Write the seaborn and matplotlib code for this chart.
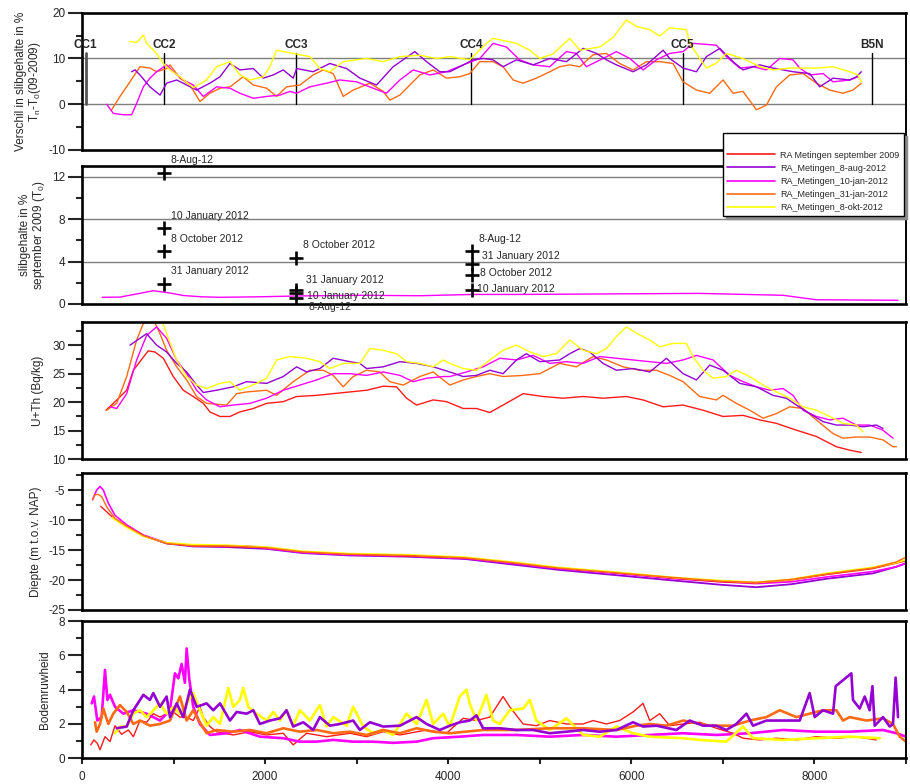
import matplotlib
matplotlib.use("Agg")
import matplotlib.pyplot as plt
from matplotlib.lines import Line2D
from matplotlib.ticker import MultipleLocator
import seaborn as sns
import pandas as pd

# ---------------------------------------------------------------- series names / colours
names = ["RA Metingen september 2009", "RA_Metingen_8-aug-2012", "RA_Metingen_10-jan-2012",
         "RA_Metingen_31-jan-2012", "RA_Metingen_8-okt-2012"]
colors = ["#ff1a1a", "#9400d3", "#ff00ff", "#ff6a13", "#ffff00"]

# ---------------------------------------------------------------- stations
stations = ["CC1", "CC2", "CC3", "CC4", "CC5", "B5N"]
station_x = [40, 895, 2336, 4254, 6561, 8632]

# ---------------------------------------------------------------- panel 1: difference in silt content (%)
dv_aug_x = [542, 579, 633, 742, 852, 924, 1034, 1143, 1252, 1397, 1507, 1616, 1725, 1871, 1980, 2089, 2198, 2307,
            2344, 2525, 2707, 2890, 3035, 3217, 3399, 3635, 3763, 3908, 4017, 4126, 4272, 4381, 4490, 4599, 4745,
            4927, 5109, 5291, 5473, 5619, 5728, 5837, 6019, 6165, 6347, 6419, 6565, 6711, 6820, 6966, 7111, 7220,
            7402, 7548, 7766, 7948, 8057, 8203, 8385, 8458, 8512]
dv_aug_y = [7.1, 7.5, 6.4, 3.8, 2.0, 4.6, 5.3, 4.2, 3.1, 4.6, 6.0, 8.9, 7.5, 7.8, 5.7, 6.4, 7.5, 5.7, 7.8, 7.1,
            8.9, 7.8, 5.7, 4.2, 8.2, 11.5, 9.3, 7.1, 7.1, 8.2, 9.7, 10.0, 9.7, 8.2, 9.7, 8.6, 10.0, 9.3, 12.2, 11.1,
            9.7, 8.6, 7.1, 8.6, 11.8, 10.0, 7.9, 7.1, 10.4, 12.2, 9.3, 7.5, 8.6, 7.9, 7.1, 6.7, 3.8, 5.7, 5.3, 6.0,
            7.1]
dv_j10_x = [269, 342, 451, 542, 597, 670, 742, 815, 924, 997, 1106, 1215, 1325, 1470, 1616, 1725, 1871, 2016, 2162,
            2271, 2344, 2489, 2671, 2817, 2999, 3180, 3326, 3472, 3617, 3799, 3981, 4163, 4345, 4490, 4636, 4781,
            4927, 5109, 5291, 5400, 5509, 5691, 5837, 5983, 6128, 6274, 6419, 6565, 6674, 6929, 7038, 7184, 7329,
            7475, 7621, 7766, 7839, 7948, 8094, 8203, 8385, 8476]
dv_j10_y = [0.0, -2.0, -2.3, -2.3, 0.2, 3.8, 5.7, 7.1, 8.6, 7.1, 5.3, 4.2, 1.7, 3.8, 3.5, 2.4, 1.3, 1.7, 2.0, 2.8,
            2.4, 3.8, 4.6, 5.3, 4.9, 3.5, 2.4, 5.3, 7.5, 6.4, 7.1, 8.6, 10.0, 13.3, 12.5, 9.7, 8.6, 8.2, 11.5, 11.1,
            8.2, 10.0, 11.5, 10.0, 7.5, 9.7, 11.1, 11.5, 13.3, 12.9, 10.4, 7.9, 8.2, 7.5, 10.0, 9.7, 7.9, 6.4, 6.7,
            4.9, 5.3, 6.0]
dv_j31_x = [324, 415, 524, 633, 742, 815, 924, 961, 1070, 1179, 1288, 1397, 1507, 1616, 1761, 1871, 2016, 2125, 2234,
            2380, 2525, 2635, 2744, 2853, 2962, 3144, 3290, 3362, 3472, 3581, 3690, 3836, 3981, 4126, 4235, 4345,
            4490, 4599, 4709, 4818, 4963, 5109, 5218, 5327, 5437, 5582, 5728, 5873, 6019, 6165, 6310, 6456, 6565,
            6711, 6856, 7002, 7111, 7220, 7366, 7475, 7584, 7730, 7875, 8021, 8167, 8312, 8421, 8512]
dv_j31_y = [-1.2, 1.7, 4.9, 8.2, 7.9, 7.1, 7.8, 8.6, 5.7, 4.2, 0.6, 2.4, 3.5, 3.8, 6.0, 4.2, 3.5, 1.7, 3.8, 4.2,
            6.4, 7.5, 6.7, 1.7, 3.1, 4.6, 2.8, 0.9, 2.0, 4.2, 6.4, 7.5, 5.7, 6.0, 6.7, 9.3, 9.3, 8.2, 5.3, 4.6,
            5.7, 7.1, 8.2, 8.6, 8.2, 10.8, 11.1, 8.9, 7.5, 9.3, 9.3, 8.9, 4.9, 3.1, 2.4, 5.3, 2.4, 2.8, -1.2, -0.2,
            3.8, 6.4, 6.7, 4.6, 3.1, 2.4, 3.1, 4.6]
dv_okt_x = [517, 597, 670, 706, 815, 888, 961, 1070, 1215, 1361, 1470, 1616, 1725, 1834, 1980, 2052, 2125, 2307,
            2489, 2598, 2707, 2853, 3108, 3290, 3472, 3690, 3872, 4017, 4235, 4417, 4490, 4745, 4891, 5000, 5145,
            5327, 5437, 5655, 5801, 5946, 6055, 6201, 6310, 6419, 6601, 6638, 6747, 6820, 6929, 7038, 7220, 7402,
            7548, 7730, 8021, 8203, 8385, 8476, 8512]
dv_okt_y = [13.7, 13.5, 15.1, 13.3, 11.1, 8.9, 7.5, 6.0, 3.6, 5.3, 8.2, 9.3, 6.4, 5.3, 6.0, 8.2, 11.8, 11.1, 10.4,
            7.8, 7.1, 9.3, 10.0, 9.3, 10.4, 10.7, 10.0, 10.4, 9.7, 13.3, 14.4, 13.3, 11.8, 10.0, 11.0, 14.4, 11.8,
            12.5, 14.6, 18.4, 17.0, 16.3, 14.9, 16.7, 16.3, 13.3, 10.0, 7.9, 9.0, 11.1, 10.0, 8.2, 7.5, 7.9, 7.9,
            8.2, 7.1, 6.4, 4.9]

# ---------------------------------------------------------------- panel 2: silt content september 2009 (T0)
sg_x = [220, 415, 600, 779, 950, 1106, 1300, 1507, 1943, 2380, 3035, 3690, 4272, 4782, 5764, 6747, 7657, 8020,
        8384, 8912]
sg_y = [0.63, 0.65, 0.95, 1.25, 1.05, 0.8, 0.68, 0.63, 0.68, 0.76, 0.82, 0.78, 0.9, 0.9, 0.95, 1.0, 0.82, 0.4,
        0.38, 0.35]
sample_x = [895, 895, 895, 895, 2336, 2336, 2336, 2336, 4258, 4258, 4258, 4258]
sample_y = [12.35, 7.15, 5.0, 1.9, 4.3, 1.35, 1.05, 0.6, 4.95, 3.8, 2.75, 1.3]
sample_lbl = ["8-Aug-12", "10 January 2012", "8 October 2012", "31 January 2012",
              "8 October 2012", "31 January 2012", "10 January 2012", "8-Aug-12",
              "8-Aug-12", "31 January 2012", "8 October 2012", "10 January 2012"]
# where each sample's caption sits
lbl_x = [972, 972, 972, 972, 2413, 2445, 2456, 2478, 4334, 4364, 4345, 4312]
lbl_y = [13.6, 8.25, 6.15, 3.1, 5.6, 2.3, 0.8, -0.25, 6.1, 4.5, 2.95, 1.4]

# ---------------------------------------------------------------- panel 3: U+Th (Bq/kg)
ut_sep_x = [262, 342, 488, 561, 670, 724, 797, 888, 997, 1106, 1215, 1325, 1397, 1507, 1616, 1725, 1871, 2016, 2198,
            2344, 2562, 2744, 2926, 3108, 3290, 3435, 3545, 3654, 3836, 3981, 4163, 4308, 4454, 4599, 4818, 5036,
            5255, 5473, 5691, 5946, 6128, 6347, 6565, 6783, 7002, 7220, 7402, 7584, 7803, 8021, 8239, 8385, 8512]
ut_sep_y = [18.6, 19.8, 22.1, 25.6, 27.9, 29.0, 28.8, 27.7, 24.5, 22.1, 21.0, 19.8, 18.3, 17.5, 17.5, 18.3, 18.9,
            19.8, 20.1, 21.0, 21.2, 21.5, 21.8, 22.1, 22.8, 22.7, 20.7, 19.5, 20.4, 20.1, 18.9, 18.9, 18.2, 19.5,
            21.5, 21.0, 20.7, 21.0, 20.7, 21.0, 20.4, 19.2, 19.5, 18.6, 17.5, 17.7, 16.9, 16.3, 15.1, 14.0, 12.2,
            11.6, 11.2]
ut_aug_x = [524, 633, 706, 815, 924, 1034, 1143, 1252, 1325, 1470, 1652, 1798, 2016, 2198, 2344, 2453, 2598, 2744,
            2926, 3035, 3108, 3290, 3472, 3654, 3836, 4017, 4163, 4308, 4454, 4599, 4745, 4854, 5000, 5218, 5327,
            5437, 5546, 5691, 5837, 6019, 6201, 6383, 6565, 6711, 6856, 7002, 7184, 7366, 7548, 7693, 7803, 7948,
            8094, 8239, 8385, 8531, 8676, 8749]
ut_aug_y = [30.0, 31.2, 32.0, 30.0, 28.8, 26.8, 25.3, 23.0, 21.7, 22.1, 22.7, 23.6, 23.3, 24.5, 26.2, 25.3, 25.9,
            27.7, 27.1, 26.8, 25.9, 26.2, 27.1, 26.8, 26.2, 25.3, 24.5, 24.7, 25.6, 25.0, 27.4, 28.5, 27.1, 27.4,
            28.5, 29.4, 28.8, 26.8, 25.6, 25.9, 25.3, 27.7, 25.0, 23.9, 26.5, 25.6, 23.3, 22.7, 21.2, 20.7, 19.5,
            18.0, 16.6, 16.0, 16.0, 15.7, 16.0, 15.4]
ut_j10_x = [306, 379, 488, 597, 706, 815, 924, 1034, 1143, 1252, 1361, 1507, 1652, 1834, 2016, 2198, 2380, 2562,
            2744, 2926, 3108, 3290, 3472, 3617, 3763, 3945, 4017, 4199, 4381, 4563, 4745, 4927, 5109, 5291, 5473,
            5655, 5837, 6019, 6201, 6383, 6565, 6711, 6893, 7075, 7220, 7366, 7511, 7657, 7766, 7875, 8021, 8167,
            8312, 8458, 8603, 8749, 8858]
ut_j10_y = [19.2, 18.9, 21.5, 27.4, 31.7, 33.2, 31.2, 27.4, 25.0, 22.1, 20.4, 19.2, 19.5, 19.8, 20.7, 22.1, 23.0,
            23.9, 25.0, 25.0, 24.7, 25.3, 24.7, 23.6, 24.2, 24.5, 24.5, 25.3, 26.2, 27.7, 27.4, 28.2, 26.8, 27.1,
            26.8, 28.0, 27.7, 27.4, 27.1, 26.8, 27.4, 28.2, 27.4, 24.7, 23.6, 22.7, 22.1, 22.4, 21.2, 18.6, 17.5,
            16.9, 17.2, 16.0, 16.0, 15.1, 13.7]
ut_j31_x = [269, 379, 488, 597, 670, 779, 852, 924, 1034, 1143, 1252, 1361, 1580, 1689, 1798, 2016, 2125, 2307,
            2489, 2635, 2744, 2853, 2962, 3108, 3253, 3362, 3508, 3690, 3836, 4017, 4163, 4308, 4454, 4599, 4818,
            5000, 5218, 5400, 5582, 5728, 5910, 6092, 6274, 6419, 6565, 6747, 6929, 7002, 7147, 7293, 7439, 7584,
            7730, 7875, 8021, 8203, 8312, 8458, 8603, 8749, 8858, 8895]
ut_j31_y = [18.6, 19.8, 24.5, 30.9, 33.8, 34.5, 32.0, 29.1, 26.2, 23.9, 21.0, 19.8, 19.5, 21.5, 21.8, 22.1, 21.2,
            23.6, 25.6, 25.6, 24.7, 22.7, 24.5, 25.6, 25.3, 23.6, 23.0, 24.5, 25.3, 23.0, 23.9, 24.5, 25.0, 24.5,
            24.7, 25.0, 26.8, 26.2, 28.0, 27.4, 26.2, 25.6, 25.6, 24.7, 23.6, 21.0, 20.4, 21.2, 19.8, 18.6, 17.2,
            18.0, 19.2, 18.9, 16.9, 14.5, 13.7, 13.9, 13.9, 13.4, 12.2, 12.2]
ut_okt_x = [870, 924, 1034, 1143, 1252, 1361, 1507, 1616, 1725, 1907, 2016, 2125, 2271, 2453, 2598, 2707, 2853, 3035,
            3144, 3290, 3435, 3545, 3690, 3836, 3945, 4017, 4163, 4308, 4454, 4599, 4745, 4891, 5036, 5182, 5327,
            5473, 5619, 5728, 5837, 5946, 6055, 6201, 6310, 6456, 6601, 6674, 6783, 6893, 7038, 7147, 7293, 7439,
            7584, 7730, 7875, 8021, 8167, 8312, 8458, 8531]
ut_okt_y = [34.5, 32.0, 27.4, 24.5, 23.0, 22.4, 23.3, 23.6, 22.1, 23.3, 24.2, 27.4, 28.0, 27.7, 27.1, 25.9, 26.8,
            26.8, 29.4, 29.1, 28.5, 27.1, 26.8, 26.2, 27.4, 26.8, 25.9, 25.6, 27.4, 29.1, 30.0, 28.8, 28.0, 28.5,
            30.9, 29.1, 28.5, 29.4, 31.5, 33.2, 32.1, 30.9, 29.7, 30.3, 30.3, 28.0, 25.6, 24.2, 24.5, 25.6, 24.5,
            23.0, 21.8, 20.7, 19.2, 18.6, 17.5, 16.3, 16.0, 14.8]

# ---------------------------------------------------------------- panel 4: depth (m t.o.v. NAP)
dp_sep_x = [204, 360, 488, 670, 924, 1215, 1579, 2016, 2409, 2917, 3553, 4188, 4697, 5205, 5841, 6476, 6984, 7365,
            7746, 8128, 8636, 8891, 9000]
dp_sep_y = [-7.7, -9.9, -11.1, -12.6, -13.9, -14.3, -14.4, -14.6, -15.3, -15.7, -16.0, -16.3, -17.1, -18.0, -18.8,
            -19.7, -20.3, -20.5, -20.0, -19.1, -18.1, -17.2, -16.8]
dp_aug_x = [488, 670, 924, 1215, 1579, 2016, 2409, 2917, 3553, 4188, 4697, 5205, 5841, 6476, 6984, 7365, 7746, 8128,
            8636, 8891, 9000]
dp_aug_y = [-10.9, -12.6, -13.9, -14.4, -14.5, -14.8, -15.5, -15.9, -16.1, -16.5, -17.4, -18.3, -19.2, -20.1, -20.8,
            -21.2, -20.7, -19.8, -18.9, -17.8, -17.2]
dp_j10_x = [116, 160, 197, 233, 288, 360, 488, 670, 924, 1215, 1579, 1798, 2016, 2409, 2917, 3553, 4188, 4697, 5205,
            5841, 6476, 6984, 7365, 7746, 8128, 8636, 8891, 9000]
dp_j10_y = [-6.6, -5.0, -4.4, -5.0, -7.2, -9.2, -10.8, -12.5, -13.8, -14.3, -14.4, -14.3, -14.7, -15.4, -15.8, -16.0,
            -16.4, -17.2, -18.1, -18.9, -19.8, -20.3, -20.6, -20.3, -19.5, -18.6, -17.8, -17.2]
dp_j31_x = [116, 140, 175, 215, 270, 360, 488, 670, 924, 1215, 1579, 2016, 2409, 2917, 3553, 4188, 4697, 5205, 5841,
            6476, 6984, 7365, 7746, 8128, 8636, 8891, 9000]
dp_j31_y = [-6.6, -5.8, -5.7, -6.1, -7.8, -9.7, -11.0, -12.6, -13.9, -14.3, -14.3, -14.6, -15.3, -15.7, -15.9, -16.3,
            -17.1, -18.0, -18.8, -19.6, -20.2, -20.4, -19.9, -19.0, -18.0, -17.0, -16.2]
dp_okt_x = [330, 488, 670, 924, 1215, 1579, 2016, 2409, 2917, 3553, 4188, 4697, 5205, 5841, 6476, 6984, 7365, 7746,
            8128, 8636, 8891, 9000]
dp_okt_y = [-9.6, -11.2, -12.7, -13.8, -14.1, -14.2, -14.5, -15.2, -15.6, -15.8, -16.2, -17.0, -17.9, -18.7, -19.6,
            -20.1, -20.4, -19.9, -18.9, -17.9, -17.1, -16.6]

# ---------------------------------------------------------------- panel 5: bed roughness
rw_sep_x = [95, 131, 167, 197, 251, 306, 360, 433, 506, 561, 633, 706, 779, 852, 924, 997, 1070, 1143, 1215, 1288,
            1325, 1397, 1470, 1652, 1834, 2016, 2198, 2307, 2453, 2671, 2926, 3108, 3290, 3472, 3763, 3981, 4163,
            4308, 4454, 4599, 4672, 4818, 4963, 5109, 5291, 5473, 5582, 5728, 5873, 6019, 6128, 6201, 6310, 6419,
            6565, 6747, 6929, 7111, 7220, 7402, 7584, 7803, 8021, 8239, 8458, 8676]
rw_sep_y = [0.78, 1.07, 0.87, 0.5, 1.26, 0.97, 1.9, 1.4, 1.65, 1.26, 2.2, 2.1, 2.6, 2.4, 2.6, 2.7, 2.4, 2.4, 2.2,
            3.0, 2.4, 1.85, 1.55, 1.36, 1.55, 1.36, 1.46, 0.78, 1.46, 1.26, 1.46, 1.26, 1.55, 1.36, 1.65, 1.46,
            2.33, 2.2, 2.4, 3.6, 3.0, 2.0, 1.9, 2.2, 2.0, 2.0, 2.2, 2.0, 2.2, 2.7, 3.2, 2.2, 2.6, 1.9, 2.0, 2.1,
            1.75, 1.46, 1.17, 1.07, 1.17, 1.07, 1.26, 1.17, 1.26, 1.07]
rw_aug_x = [379, 488, 561, 670, 742, 779, 852, 924, 961, 1034, 1106, 1179, 1252, 1361, 1434, 1507, 1616, 1689, 1798,
            1871, 1943, 2052, 2162, 2234, 2307, 2416, 2525, 2598, 2707, 2817, 2962, 3035, 3144, 3290, 3472, 3654,
            3763, 3908, 4017, 4126, 4235, 4308, 4381, 4563, 4745, 4927, 5109, 5291, 5473, 5655, 5837, 6019, 6128,
            6274, 6492, 6638, 6783, 6929, 7038, 7147, 7257, 7329, 7475, 7657, 7839, 7948, 8003, 8094, 8203, 8232,
            8403, 8421, 8494, 8549, 8603, 8633, 8658, 8749, 8822, 8858, 8887, 8913]
rw_aug_y = [1.75, 1.85, 2.8, 3.7, 3.4, 3.8, 3.0, 3.6, 2.4, 3.2, 2.4, 4.0, 3.0, 3.2, 2.8, 3.2, 2.2, 2.7, 2.6, 2.8,
            2.0, 2.2, 2.33, 2.8, 1.85, 2.1, 1.65, 2.4, 1.9, 2.0, 2.2, 1.65, 2.1, 1.85, 1.9, 2.4, 2.0, 1.65, 1.9,
            2.1, 2.2, 2.5, 1.75, 1.75, 1.65, 1.65, 1.46, 1.55, 1.65, 1.55, 1.65, 2.1, 1.85, 1.9, 1.65, 2.2, 1.9,
            1.9, 1.65, 2.0, 2.6, 1.9, 2.2, 2.2, 2.2, 3.8, 2.4, 2.8, 2.6, 4.2, 4.95, 3.4, 2.9, 3.6, 2.8, 4.2, 1.9,
            2.4, 1.85, 2.0, 4.7, 2.4]
rw_j10_x = [106, 131, 167, 215, 251, 277, 306, 360, 451, 561, 706, 852, 961, 1015, 1052, 1088, 1124, 1143, 1172,
            1215, 1288, 1397, 1580, 1725, 1943, 2198, 2380, 2562, 2744, 2962, 3180, 3399, 3654, 3836, 4127, 4381,
            4745, 5109, 5473, 5837, 6201, 6565, 6929, 7293, 7657, 8021, 8385, 8749, 8895, 9000]
rw_j10_y = [3.2, 3.6, 2.2, 2.4, 5.15, 3.4, 3.7, 3.0, 2.6, 2.8, 2.6, 2.2, 2.8, 4.95, 4.66, 5.5, 4.4, 6.4, 4.6, 3.0,
            2.0, 1.36, 1.46, 1.65, 1.26, 1.17, 0.97, 0.97, 1.07, 0.97, 0.97, 0.9, 0.97, 1.17, 1.26, 1.36, 1.36,
            1.26, 1.36, 1.26, 1.36, 1.46, 1.36, 1.46, 1.65, 1.55, 1.55, 1.65, 1.46, 1.26]
rw_j31_x = [142, 160, 197, 233, 287, 342, 415, 488, 561, 633, 742, 852, 961, 1070, 1143, 1215, 1288, 1361, 1470,
            1652, 1834, 2016, 2198, 2380, 2562, 2744, 2926, 3108, 3290, 3472, 3654, 3836, 4017, 4381, 4745, 5109,
            5473, 5837, 6055, 6201, 6383, 6565, 6856, 7111, 7293, 7475, 7621, 7803, 7948, 8094, 8239, 8312, 8385,
            8567, 8749, 8858, 8931, 9000]
rw_j31_y = [2.1, 1.55, 2.0, 2.9, 2.0, 2.6, 3.1, 2.7, 2.0, 2.2, 1.9, 2.0, 2.2, 3.6, 2.2, 2.8, 2.1, 1.46, 1.65, 1.55,
            1.65, 1.46, 1.75, 1.55, 1.65, 1.46, 1.55, 1.36, 1.65, 1.46, 1.75, 1.55, 1.46, 1.65, 1.65, 1.75, 1.75,
            1.65, 1.9, 2.0, 1.9, 2.2, 1.9, 1.9, 2.2, 2.4, 2.8, 2.4, 2.6, 2.8, 2.8, 2.2, 2.4, 2.2, 2.33, 2.0, 1.26,
            0.97]
rw_okt_x = [360, 415, 488, 561, 633, 706, 779, 852, 924, 997, 1070, 1143, 1215, 1288, 1361, 1434, 1507, 1598, 1652,
            1725, 1761, 1816, 1907, 2016, 2089, 2162, 2234, 2307, 2380, 2489, 2598, 2671, 2744, 2890, 2962, 3071,
            3180, 3290, 3399, 3545, 3654, 3763, 3836, 3945, 4017, 4126, 4199, 4235, 4308, 4381, 4417, 4490, 4563,
            4672, 4818, 4891, 4963, 5109, 5291, 5473, 5655, 5837, 6019, 6201, 6565, 6747, 7038, 7220, 7329, 7657,
            8021, 8385, 8713]
rw_okt_y = [1.46, 1.85, 1.85, 2.6, 2.8, 2.4, 2.8, 3.2, 2.6, 3.0, 2.6, 3.2, 3.8, 2.8, 1.9, 2.4, 2.0, 4.1, 3.0, 3.4,
            4.1, 3.0, 2.6, 2.2, 2.7, 2.2, 2.8, 1.9, 2.8, 2.2, 3.1, 1.85, 2.4, 1.9, 3.0, 1.85, 1.46, 1.65, 1.36, 2.6,
            2.0, 3.4, 2.0, 2.6, 1.85, 3.6, 4.0, 3.2, 2.2, 3.2, 3.7, 2.2, 2.0, 2.8, 2.9, 3.4, 2.2, 1.65, 2.33, 1.36,
            1.26, 1.85, 1.46, 1.26, 1.17, 1.07, 0.97, 1.85, 1.17, 1.07, 1.17, 1.26, 1.17]

# ---------------------------------------------------------------- style
sns.set_style("ticks")
plt.rcParams["font.family"] = ["Liberation Sans", "DejaVu Sans"]
plt.rcParams["mathtext.default"] = "regular"
plt.rcParams["axes.unicode_minus"] = False

W, H = 910, 784
fig = plt.figure(figsize=(W / 100, H / 100), dpi=100)


def add_panel(top, bottom):
    left, right = 82, 906
    return fig.add_axes([left / W, 1 - bottom / H, (right - left) / W, (bottom - top) / H])


def style_panel(ax, ylim, major, minor, ylabel, label_x, show_x=False):
    ax.set_xlim(0, 9000)
    ax.set_ylim(*ylim)
    ax.yaxis.set_major_locator(MultipleLocator(major))
    ax.yaxis.set_minor_locator(MultipleLocator(minor))
    ax.tick_params(axis="y", which="major", direction="out", length=10, width=1.5, labelsize=8.5, pad=2)
    ax.tick_params(axis="y", which="minor", direction="out", length=4.5, width=1.5)
    if show_x:
        ax.xaxis.set_major_locator(MultipleLocator(2000))
        ax.xaxis.set_minor_locator(MultipleLocator(1000))
        ax.tick_params(axis="x", which="both", direction="out", length=4.5, width=1.5, labelsize=8.5, pad=5)
    else:
        ax.tick_params(axis="x", which="both", bottom=False, labelbottom=False)
    ax.set_xlabel("")
    ax.set_ylabel(ylabel, fontsize=8.5, linespacing=1.0)
    ax.yaxis.set_label_coords(label_x, 0.5)
    for side in ["left", "bottom", "top"]:
        ax.spines[side].set_linewidth(1.9)
    ax.spines["right"].set_linewidth(1.4)
    for s in ax.spines.values():
        s.set_color("black")


def draw(ax, xs, ys, color, lw):
    sns.lineplot(x=xs, y=ys, ax=ax, color=color, lw=lw, sort=False, estimator=None)


# ---------------------------------------------------------------- panel 1
ax1 = add_panel(12.7, 150)
for yv in (0, 10):
    ax1.axhline(yv, color="#7f7f7f", lw=1, zorder=0.5)
for name, xv in zip(stations, station_x):
    ax1.plot([xv, xv], [0, 11.1], color="#555555" if name == "CC1" else "black",
             lw=2.0 if name == "CC1" else 1.0, zorder=1)
    ax1.text(xv, 11.6, name, ha="center", va="bottom", fontsize=8.5, fontweight="bold")
draw(ax1, dv_j31_x, dv_j31_y, colors[3], 1.0)
draw(ax1, dv_j10_x, dv_j10_y, colors[2], 1.0)
draw(ax1, dv_aug_x, dv_aug_y, colors[1], 1.0)
draw(ax1, dv_okt_x, dv_okt_y, colors[4], 1.0)
style_panel(ax1, (-10, 20), 10, 5, "Verschil in slibgehalte in %\nT$_n$-T$_0$(09-2009)", -0.047)

# ---------------------------------------------------------------- panel 2
ax2 = add_panel(166, 304)
for yv in (4, 8, 12):
    ax2.axhline(yv, color="#7f7f7f", lw=1, zorder=0.5)
draw(ax2, sg_x, sg_y, colors[2], 1.0)
sns.scatterplot(x=sample_x, y=sample_y, ax=ax2, marker="+", s=110, color="black", linewidth=1.9, zorder=5)
for txt, tx, ty in zip(sample_lbl, lbl_x, lbl_y):
    ax2.text(tx, ty, txt, fontsize=7.5, ha="left", va="center", clip_on=False)
style_panel(ax2, (0, 13), 4, 2, "slibgehalte in %\nseptember 2009 (T$_0$)", -0.042)

# ---------------------------------------------------------------- panel 3
ax3 = add_panel(322.3, 459.3)
draw(ax3, ut_sep_x, ut_sep_y, colors[0], 1.0)
draw(ax3, ut_j31_x, ut_j31_y, colors[3], 1.0)
draw(ax3, ut_j10_x, ut_j10_y, colors[2], 1.0)
draw(ax3, ut_aug_x, ut_aug_y, colors[1], 1.0)
draw(ax3, ut_okt_x, ut_okt_y, colors[4], 1.0)
style_panel(ax3, (10, 34), 5, 2.5, "U+Th (Bq/kg)", -0.046)

# ---------------------------------------------------------------- panel 4
ax4 = add_panel(473.3, 610)
draw(ax4, dp_aug_x, dp_aug_y, colors[1], 1.3)
draw(ax4, dp_j10_x, dp_j10_y, colors[2], 1.2)
draw(ax4, dp_sep_x, dp_sep_y, colors[0], 1.0)
draw(ax4, dp_okt_x, dp_okt_y, colors[4], 1.3)
draw(ax4, dp_j31_x, dp_j31_y, colors[3], 1.0)
style_panel(ax4, (-25, -2.2), 5, 2.5, "Diepte (m t.o.v. NAP)", -0.048)

# ---------------------------------------------------------------- panel 5
ax5 = add_panel(621, 758.3)
draw(ax5, rw_sep_x, rw_sep_y, colors[0], 1.0)
draw(ax5, rw_j10_x, rw_j10_y, colors[2], 1.9)
draw(ax5, rw_okt_x, rw_okt_y, colors[4], 1.9)
draw(ax5, rw_j31_x, rw_j31_y, colors[3], 1.9)
draw(ax5, rw_aug_x, rw_aug_y, colors[1], 1.9)
style_panel(ax5, (0, 8), 2, 1, "Bodemruwheid", -0.038, show_x=True)

# ---------------------------------------------------------------- legend
handles = [Line2D([], [], color=c, lw=1.2) for c in colors]
leg = fig.legend(handles, names, loc="upper right", bbox_to_anchor=(904 / W, 1 - 133 / H),
                 borderaxespad=0, fontsize=6.5, title=" ", title_fontsize=6.5, handlelength=5.3,
                 handletextpad=0.55, labelspacing=0.45, borderpad=0.5, frameon=True, fancybox=False,
                 shadow={"color": "0.55", "alpha": 1.0})
leg.get_frame().set_edgecolor("black")
leg.get_frame().set_linewidth(1.0)

fig.savefig("out.png", dpi=100)
